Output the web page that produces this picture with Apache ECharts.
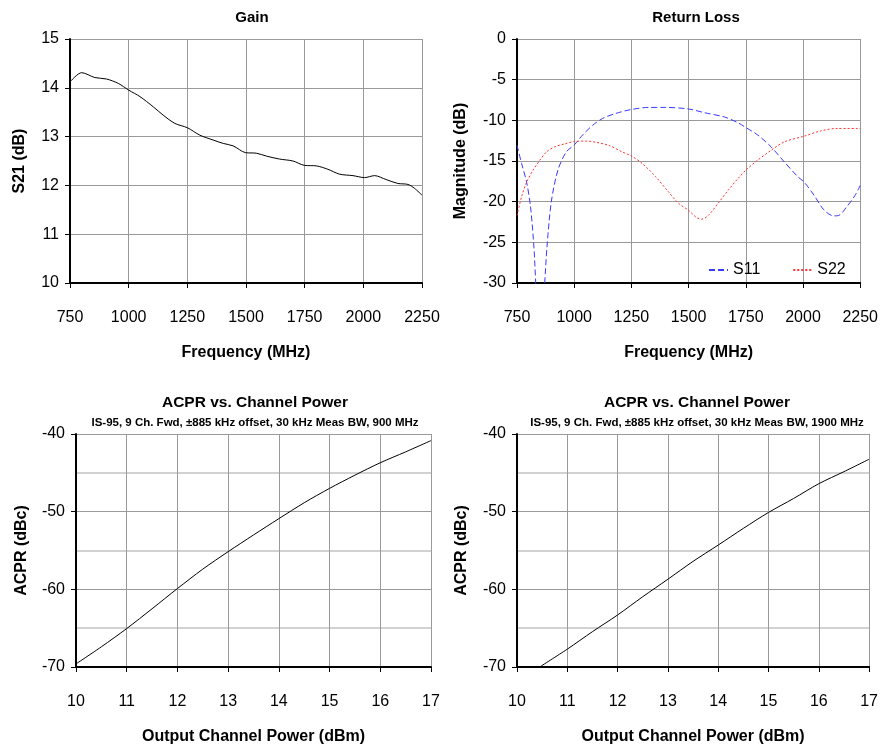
<!DOCTYPE html>
<html>
<head>
<meta charset="utf-8">
<script src="https://cdn.jsdelivr.net/npm/echarts@6/dist/echarts.min.js"></script>
<style>
html,body{margin:0;padding:0;background:#fff;}
#c{width:881px;height:750px;}
</style>
</head>
<body>
<div id="c"></div>
<script>
// ---- Gain (S21) ----
var gainFreq = [750, 800, 856, 906, 956, 1001, 1048, 1105, 1147, 1197, 1251, 1303, 1360, 1403, 1445, 1499, 1544, 1587, 1643, 1700, 1750, 1800, 1849, 1899, 1956, 2005, 2048, 2097, 2147, 2190, 2218, 2250];
var gainS21 = [14.12, 14.31, 14.21, 14.18, 14.09, 13.95, 13.82, 13.61, 13.44, 13.27, 13.18, 13.03, 12.93, 12.86, 12.81, 12.67, 12.66, 12.60, 12.54, 12.50, 12.41, 12.40, 12.33, 12.23, 12.20, 12.16, 12.20, 12.12, 12.04, 12.02, 11.94, 11.80];

// ---- Return loss ----
var s11Freq = [750, 770, 792, 809, 824, 832, 850, 871, 881, 900, 929, 965, 1001, 1037, 1081, 1124, 1182, 1251, 1326, 1398, 1499, 1571, 1658, 1716, 1751, 1802, 1860, 1918, 1976, 2005, 2048, 2091, 2134, 2156, 2192, 2228, 2250];
var s11Mag  = [-13.05, -15.3, -17.6, -20.6, -25.6, -30, -38, -30, -25.6, -20.0, -16.1, -13.9, -13.0, -11.8, -10.6, -9.77, -9.15, -8.66, -8.41, -8.41, -8.6, -9.07, -9.6, -10.3, -10.9, -11.8, -13.25, -15.1, -16.9, -17.6, -19.2, -21.0, -21.75, -21.7, -20.6, -19.2, -18.0];
var s22Freq = [750, 770, 792, 821, 850, 878, 915, 958, 1001, 1052, 1095, 1153, 1211, 1251, 1297, 1355, 1412, 1456, 1499, 1535, 1557, 1586, 1629, 1673, 1716, 1751, 1802, 1860, 1918, 2005, 2077, 2149, 2250];
var s22Mag  = [-21.7, -19.4, -17.6, -16.1, -14.9, -13.9, -13.25, -12.9, -12.6, -12.55, -12.7, -13.1, -13.9, -14.4, -15.3, -16.9, -18.8, -20.2, -21.05, -21.95, -22.15, -21.7, -20.2, -18.6, -17.15, -16.1, -14.9, -13.7, -12.65, -11.95, -11.3, -11.0, -11.0];

// ---- ACPR ----
var acpr900Pout = [10, 10.5, 11, 11.5, 12, 12.5, 13, 13.5, 14, 14.5, 15, 15.5, 16, 16.5, 17];
var acpr900     = [-69.6, -67.4, -65.05, -62.5, -59.9, -57.4, -55.15, -53.0, -50.9, -48.85, -47.0, -45.3, -43.7, -42.3, -40.85];
var acpr1900Pout = [10.45, 11, 11.5, 12, 12.5, 13, 13.5, 14, 14.5, 15, 15.5, 16, 16.5, 17];
var acpr1900     = [-70.0, -67.7, -65.45, -63.3, -60.95, -58.7, -56.4, -54.3, -52.15, -50.1, -48.3, -46.4, -44.85, -43.25];

function pairs(xs, ys){ return xs.map(function(x,i){ return [x, ys[i]]; }); }

var FONT = '"Liberation Sans", Arial, sans-serif';
var gridColor = '#9a9a9a';

function xAxisCfg(gi, min, max, interval, name){
  return {
    type: 'value', gridIndex: gi, min: min, max: max, interval: interval,
    name: name, nameLocation: 'middle', nameGap: 62,
    nameTextStyle: {fontFamily: FONT, fontWeight: 'bold', fontSize: 16, color: '#000'},
    axisLine: {show: true, onZero: false, lineStyle: {color: '#000', width: 2}},
    axisTick: {show: true, length: 5, lineStyle: {color: '#000', width: 1}},
    axisLabel: {fontFamily: FONT, fontSize: 16, color: '#000', margin: 27,
                formatter: function(v){ return String(v); }},
    splitLine: {show: true, lineStyle: {color: gridColor, width: 1}}
  };
}
function yAxisCfg(gi, min, max, interval, name, gap, minor){
  var c = {
    type: 'value', gridIndex: gi, min: min, max: max, interval: interval,
    name: name, nameLocation: 'middle', nameGap: gap, nameRotate: 90,
    nameTextStyle: {fontFamily: FONT, fontWeight: 'bold', fontSize: 16, color: '#000'},
    axisLine: {show: true, onZero: false, lineStyle: {color: '#000', width: 2}},
    axisTick: {show: true, length: 5, lineStyle: {color: '#000', width: 1}},
    axisLabel: {fontFamily: FONT, fontSize: 16, color: '#000', margin: 11,
                formatter: function(v){ return String(v); }},
    splitLine: {show: true, lineStyle: {color: gridColor, width: 1}}
  };
  if (minor) {
    c.minorTick = {show: false, splitNumber: 2};
    c.minorSplitLine = {show: true, lineStyle: {color: '#c4c4c4', width: 1.5}};
  }
  return c;
}

var chart = echarts.init(document.getElementById('c'), null, {renderer: 'canvas'});
var titleStyle = {fontFamily: FONT, fontWeight: 'bold', fontSize: 15, color: '#000'};
var title2Style = {fontFamily: FONT, fontWeight: 'bold', fontSize: 15.5, color: '#000'};
var subStyle = {fontFamily: FONT, fontWeight: 'bold', fontSize: 11.5, color: '#000'};

chart.setOption({
  animation: false,
  backgroundColor: '#fff',
  title: [
    {text: 'Gain', left: 247, top: 5, textAlign: 'center', textStyle: titleStyle},
    {text: 'Return Loss', left: 691, top: 5, textAlign: 'center', textStyle: titleStyle},
    {text: 'ACPR vs. Channel Power', subtext: 'IS-95, 9 Ch. Fwd, \u00b1885 kHz offset, 30 kHz Meas BW, 900 MHz',
     left: 250, top: 390, textAlign: 'center', itemGap: 6, textStyle: title2Style, subtextStyle: subStyle},
    {text: 'ACPR vs. Channel Power', subtext: 'IS-95, 9 Ch. Fwd, \u00b1885 kHz offset, 30 kHz Meas BW, 1900 MHz',
     left: 692, top: 390, textAlign: 'center', itemGap: 6, textStyle: title2Style, subtextStyle: subStyle}
  ],
  legend: {
    show: true,
    data: ['S11', 'S22'],
    left: 703, top: 257, itemWidth: 19, itemHeight: 14, itemGap: 32,
    itemStyle: {opacity: 0},
    textStyle: {fontFamily: FONT, fontSize: 16, color: '#000'}
  },
  grid: [
    {left: 70, top: 39, width: 352, height: 244},
    {left: 517, top: 39, width: 346, height: 244},
    {left: 76, top: 434, width: 355, height: 233},
    {left: 517, top: 434, width: 355, height: 233}
  ],
  xAxis: [
    xAxisCfg(0, 750, 2250, 250, 'Frequency (MHz)'),
    xAxisCfg(1, 750, 2250, 250, 'Frequency (MHz)'),
    xAxisCfg(2, 10, 17, 1, 'Output Channel Power (dBm)'),
    xAxisCfg(3, 10, 17, 1, 'Output Channel Power (dBm)')
  ],
  yAxis: [
    yAxisCfg(0, 10, 15, 1, 'S21 (dB)', 42, false),
    yAxisCfg(1, -30, 0, 5, 'Magnitude (dB)', 48, false),
    yAxisCfg(2, -70, -40, 10, 'ACPR (dBc)', 46, true),
    yAxisCfg(3, -70, -40, 10, 'ACPR (dBc)', 47, true)
  ],
  series: [
    {type: 'line', name: 'S21', xAxisIndex: 0, yAxisIndex: 0, data: pairs(gainFreq, gainS21),
     showSymbol: false, symbol: 'none', smooth: 0.3, lineStyle: {color: '#000', width: 1}, clip: true},
    {type: 'line', name: 'S11', xAxisIndex: 1, yAxisIndex: 1, data: pairs(s11Freq, s11Mag),
     showSymbol: false, symbol: 'none', smooth: 0.3, color: '#3a3aff',
     lineStyle: {color: '#3a3aff', width: 1, type: [6, 3]}, itemStyle: {color: '#3a3aff'}, clip: true},
    {type: 'line', name: 'S22', xAxisIndex: 1, yAxisIndex: 1, data: pairs(s22Freq, s22Mag),
     showSymbol: false, symbol: 'none', smooth: 0.3, color: '#ff3030',
     lineStyle: {color: '#ff3030', width: 1, type: [2, 2]}, itemStyle: {color: '#ff3030'}, clip: true},
    {type: 'line', name: 'ACPR900', xAxisIndex: 2, yAxisIndex: 2, data: pairs(acpr900Pout, acpr900),
     showSymbol: false, symbol: 'none', smooth: 0.3, lineStyle: {color: '#000', width: 1}, clip: true},
    {type: 'line', name: 'ACPR1900', xAxisIndex: 3, yAxisIndex: 3, data: pairs(acpr1900Pout, acpr1900),
     showSymbol: false, symbol: 'none', smooth: 0.3, lineStyle: {color: '#000', width: 1}, clip: true}
  ]
});
</script>
</body>
</html>
